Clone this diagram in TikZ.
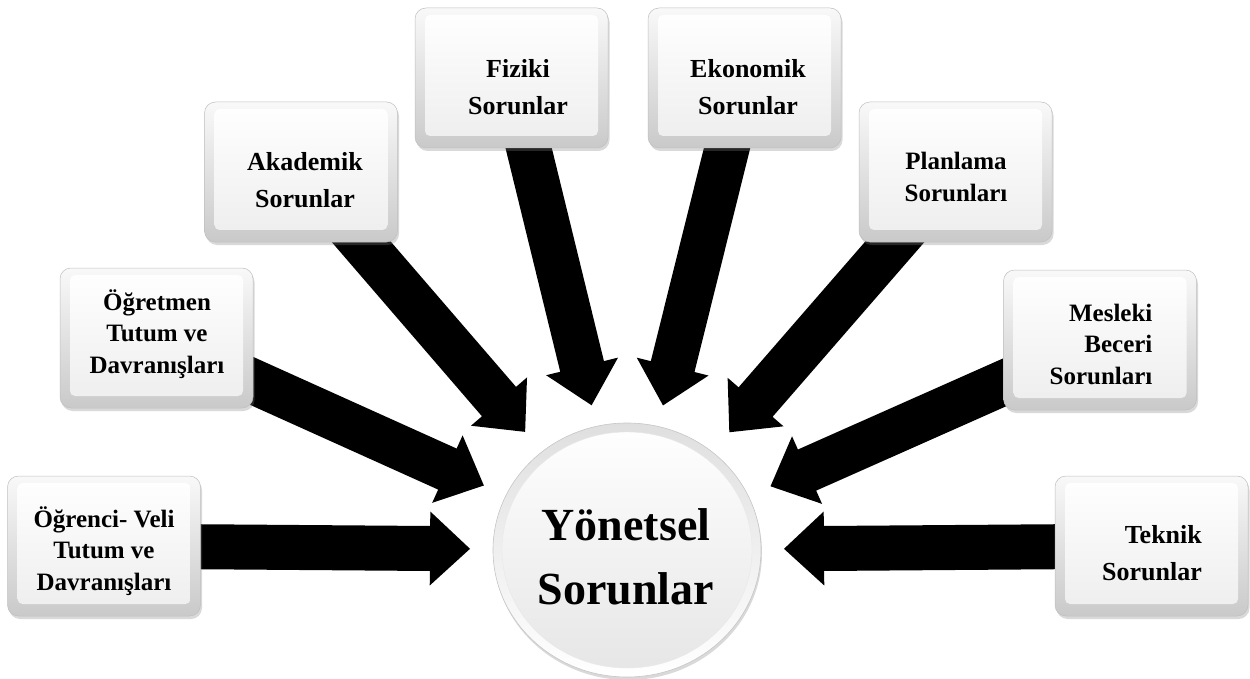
\documentclass[tikz,border=0pt]{standalone}
\usepackage{fontspec}
\setmainfont{Liberation Serif}
\usetikzlibrary{calc,shadows,shapes.geometric,backgrounds}
\begin{document}
\begin{tikzpicture}[x=1pt,y=-1pt,
  box/.style={rectangle, rounded corners=11pt, minimum width=193pt, minimum height=140pt,
    inner sep=0pt, draw=gray!50, line width=0.5pt, top color=gray!5, bottom color=gray!42,
    drop shadow={shadow xshift=1.5pt, shadow yshift=-3pt, opacity=0.3},
    path picture={\shade[top color=white, bottom color=gray!14, rounded corners=5pt]
      ([xshift=10pt,yshift=-7pt]path picture bounding box.north west) rectangle
      ([xshift=-10pt,yshift=12pt]path picture bounding box.south east);}},
  hub/.style={ellipse, minimum width=268pt, minimum height=254pt, inner sep=0pt,
    draw=gray!45, line width=0.6pt, top color=gray!25, bottom color=white,
    drop shadow={shadow xshift=1pt, shadow yshift=-3pt, opacity=0.3},
    path picture={\shade[top color=white, bottom color=gray!20, draw=gray!18, line width=0.4pt]
      (path picture bounding box.center) ellipse [x radius=125pt, y radius=118pt];}},
  lbl/.style={font=\bfseries\fontsize{26}{37}\selectfont, align=center, inner sep=0pt, text=black},
  lblm/.style={lbl, font=\bfseries\fontsize{25}{31.5}\selectfont},
  hublbl/.style={font=\bfseries\fontsize{46}{64}\selectfont, align=center, inner sep=0pt, text=black},
  arrowfill/.style={fill=black}
]
\path[use as bounding box] (0,0) rectangle (1250,679);

% central hub
\node[hub] (cc) at (627,550) {};
\node[hublbl] (ct) at (626,557) {Yönetsel\\Sorunlar};

% boxes
\node[box] (b1) at (104,546) {};
\node[box] (b2) at (156.5,338) {};
\node[box] (b3) at (301,172) {};
\node[box] (b4) at (511.5,78) {};
\node[box] (b5) at (744.5,78) {};
\node[box] (b6) at (955.5,172) {};
\node[box] (b7) at (1100,340) {};
\node[box] (b8) at (1151.5,546) {};

% labels
\node[lblm] (t1) at (104,551) {Öğrenci- Veli\\Tutum ve\\Davranışları};
\node[lblm] (t2) at (157,334) {Öğretmen\\Tutum ve\\Davranışları};
\node[lbl]  (t3) at (305,180) {Akademik\\Sorunlar};
\node[lbl]  (t4) at (518,87) {Fiziki\\Sorunlar};
\node[lbl]  (t5) at (748,87) {Ekonomik\\Sorunlar};
\node[lblm] (t6) at (956,177) {Planlama\\Sorunları};
\node[lblm, align=right] (t7) at (1101,344) {Mesleki\\Beceri\\Sorunları};
\node[lbl, align=right]  (t8) at (1152,553) {Teknik\\Sorunlar};

% block arrows from each box toward the hub
\begin{scope}[on background layer]
\foreach \bx/\ds in {b1/157,b2/157,b3/156,b4/149,b5/149,b6/156,b7/157,b8/157}{
  \coordinate (T) at ($(cc.center)!\ds pt!(\bx.center)$);
  \coordinate (H) at ($(T)!40pt!(\bx.center)$);
  \fill[arrowfill] ($(\bx.center)!22.5pt!90:(T)$) -- ($(H)!22.5pt!90:(T)$)
    -- ($(H)!37pt!90:(T)$) -- (T) -- ($(H)!37pt!-90:(T)$)
    -- ($(H)!22.5pt!-90:(T)$) -- ($(\bx.center)!22.5pt!-90:(T)$) -- cycle;
}
\end{scope}
\end{tikzpicture}
\end{document}
